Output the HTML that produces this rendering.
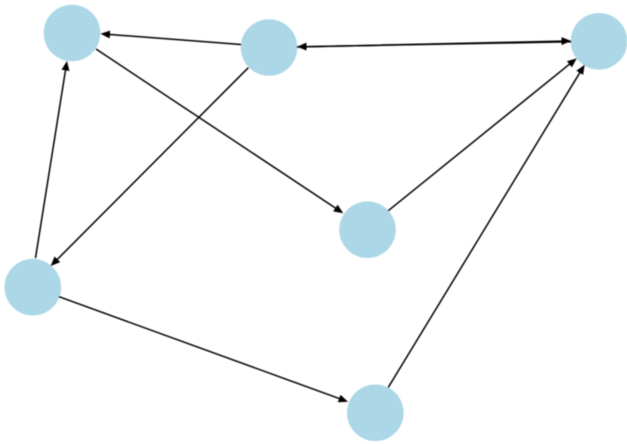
<!DOCTYPE html>
<html>
<head>
<meta charset="utf-8">
<style>
html,body{margin:0;padding:0;background:#fff;width:627px;height:444px;overflow:hidden}
svg{display:block;filter:blur(0.5px)}
</style>
</head>
<body>
<svg width="627" height="444" viewBox="0 0 627 444" xmlns="http://www.w3.org/2000/svg">
<defs>
<marker id="a" markerUnits="userSpaceOnUse" markerWidth="11" markerHeight="9" refX="6.5" refY="4" orient="auto">
<path d="M0,0 L9.5,4 L0,8 Z" fill="#000"/>
</marker>
</defs>
<g fill="#abd7e6">
<circle cx="72" cy="33" r="28.3"/>
<circle cx="269" cy="47.5" r="28.3"/>
<circle cx="599" cy="41.3" r="28.3"/>
<circle cx="367.5" cy="229.7" r="28.3"/>
<circle cx="32.8" cy="287.2" r="28.3"/>
<circle cx="375.3" cy="412.8" r="28.3"/>
</g>
<g stroke="#000" stroke-width="1.5" fill="none" marker-end="url(#a)">
<line x1="241" y1="44.5" x2="103.5" y2="34"/>
<line x1="297" y1="47" x2="568" y2="41"/>
<line x1="571" y1="41.8" x2="300" y2="46.7"/>
<line x1="248.3" y1="67.7" x2="52.8" y2="263.9"/>
<line x1="96" y1="49" x2="340.8" y2="211.6"/>
<line x1="388.3" y1="210.7" x2="574.4" y2="60.2"/>
<line x1="35.5" y1="258" x2="66.5" y2="64"/>
<line x1="59" y1="296.7" x2="345.2" y2="400.7"/>
<line x1="388.3" y1="387.3" x2="583.1" y2="67.3"/>
</g>
</svg>
</body>
</html>
